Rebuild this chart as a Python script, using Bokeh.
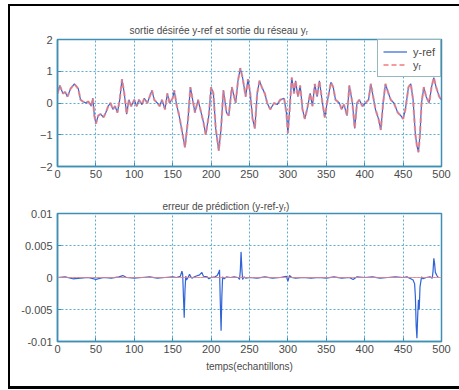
from bokeh.plotting import figure
from bokeh.layouts import column
from bokeh.models import Range1d, FixedTicker, Span, Legend, LegendItem
from bokeh.embed import file_html
from bokeh.resources import INLINE

# ---- data ----
t_ref = [0, 3, 7, 10, 13, 17, 22, 27, 30, 33, 37, 40, 44, 46, 48, 50, 53, 56, 60, 63,
         66, 69, 72, 75, 78, 81, 84, 87, 90, 93, 96, 100, 103, 106, 110, 113, 117, 120,
         123, 126, 130, 133, 136, 140, 143, 146, 150, 152, 155, 158, 160, 163, 166, 170,
         173, 176, 179, 183, 186, 190, 193, 197, 200, 203, 206, 210, 213, 216, 220, 223,
         227, 232, 235, 238, 241, 245, 248, 251, 254, 257, 260, 263, 266, 270, 273, 277,
         282, 286, 290, 295, 298, 300, 302, 305, 308, 310, 313, 316, 319, 322, 325, 329,
         332, 335, 338, 341, 345, 348, 351, 356, 359, 362, 367, 370, 373, 377, 380, 384,
         387, 390, 393, 397, 401, 405, 408, 411, 414, 418, 421, 424, 427, 431, 434, 438,
         443, 447, 450, 453, 457, 460, 463, 466, 468, 470, 472, 474, 477, 480, 484, 487,
         490, 493, 497, 500]
y_ref = [0.3, 0.55, 0.3, 0.35, 0.2, 0.45, 0.6, 0.45, 0.1, 0.05, 0.0, 0.05, -0.1, 0.15, -0.4,
         -0.65, -0.4, -0.35, -0.45, -0.3, -0.1, 0.0, -0.2, -0.1, -0.3, 0.1, 0.75, 0.3, -0.35,
         0.1, -0.1, 0.1, -0.1, 0.1, -0.05, 0.15, 0.0, 0.2, 0.4, 0.1, 0.0, -0.1, 0.1, -0.2,
         0.3, 0.0, 0.15, 0.4, -0.05, -0.35, -0.6, -1.0, -1.4, -0.5, 0.5, 0.1, -0.3, 0.1,
         -0.2, -0.6, -1.0, -0.4, 0.5, 0.3, -0.8, -1.5, -0.8, 0.4, -0.3, -0.4, 0.5, 0.0, 0.7,
         1.1, 0.8, 0.2, 0.75, 0.3, -0.5, -0.8, 0.3, 0.7, 0.5, 0.3, 0.0, -0.2, 0.0, -0.05,
         0.1, 0.15, -0.3, -0.95, -0.3, 0.8, 0.3, 0.7, 0.2, 0.55, -0.2, -0.5, -0.2, 0.3,
         -0.1, 0.6, 0.2, 0.7, 0.0, -0.45, 0.0, 0.65, 0.5, 0.1, 0.0, -0.2, -0.05, -0.4, 0.55,
         0.0, -0.8, 0.0, 0.1, -0.1, 0.0, 0.1, 0.6, 0.2, -0.2, -0.5, -0.85, 0.0, 0.6, 0.3,
         0.1, 0.0, -0.3, -0.4, -0.5, -0.2, 0.5, 0.6, 0.1, -1.0, -1.35, -1.55, -1.0, 0.0,
         0.5, 0.2, 0.0, 0.5, 0.8, 0.5, 0.2, 0.1]
y_r = list(y_ref)

t_err = [0, 10, 20, 30, 40, 50, 60, 70, 80, 85, 90, 100, 110, 120, 130, 140, 150, 155, 160,
         162, 163, 164, 165, 166, 167, 168, 170, 172, 173, 175, 180, 185, 188, 190, 195, 197,
         200, 205, 208, 210, 211, 212, 213, 214, 215, 217, 220, 225, 230, 235, 237, 238, 239,
         240, 241, 243, 245, 250, 260, 270, 280, 290, 298, 300, 302, 305, 310, 320, 330, 340,
         350, 360, 370, 380, 385, 390, 400, 410, 420, 430, 440, 450, 455, 460, 463, 465, 466,
         467, 468, 469, 470, 471, 472, 474, 476, 480, 485, 488, 489, 490, 491, 492, 494, 496,
         500]
err = [0.0, 0.0001, -0.0002, -0.0001, 0.0, -0.0003, 0.0, -0.0001, 0.0001, 0.0003, 0.0,
       -0.0001, 0.0, 0.0001, -0.0001, 0.0, 0.0001, 0.0, 0.0002, 0.001, 0.0005, -0.003,
       -0.0063, -0.002, 0.0002, -0.0004, 0.0, 0.0005, 0.0002, -0.0001, 0.0002, 0.0004,
       0.0008, 0.0002, 0.0001, -0.0002, 0.0, 0.0001, 0.0003, 0.0008, 0.0012, -0.004,
       -0.0083, -0.003, 0.0001, -0.0002, 0.0001, 0.0, 0.0001, 0.0, -0.0003, 0.001, 0.004,
       0.0015, -0.0003, 0.0001, -0.0001, 0.0, -0.0001, 0.0001, -0.0001, 0.0, 0.0002,
       -0.0006, 0.0003, 0.0, -0.0001, 0.0, -0.0001, 0.0, -0.0001, 0.0001, -0.0001, 0.0,
       -0.0003, 0.0001, 0.0, 0.0001, -0.0001, 0.0, 0.0001, 0.0, 0.0001, -0.0002, -0.0004,
       -0.001, -0.003, -0.0075, -0.0095, -0.006, -0.0035, -0.005, -0.0015, 0.0001, -0.0002,
       0.0, 0.0001, -0.0001, 0.001, 0.003, 0.0022, 0.0008, 0.0003, 0.0]

x_ticks = [0, 50, 100, 150, 200, 250, 300, 350, 400, 450, 500]
y1_ticks = [-2, -1, 0, 1, 2]
y2_ticks = [-0.01, -0.005, 0, 0.005, 0.01]
y2_labels = {-0.01: "-0.01", -0.005: "-0.005", 0: "0", 0.005: "0.005", 0.01: "0.01"}

title1 = "sortie désirée y-ref et sortie du réseau yᵣ"
title2 = "erreur de prédiction (y-ref-yᵣ)"
xlabel = "temps(echantillons)"
legend_labels = ["y-ref", "yᵣ"]

# ---- styles ----
FONT = "Liberation Sans"
AX = "#3f8fb4"
GRID = "#5aaed2"
TXT = "#4a4a4a"
BLUE = "#2f63d6"
RED = "#f28282"


def style(p, yticks):
    p.outline_line_color = AX
    p.outline_line_width = 1.5
    p.background_fill_color = "white"
    p.border_fill_color = "white"
    p.xaxis.ticker = FixedTicker(ticks=x_ticks)
    p.yaxis.ticker = FixedTicker(ticks=yticks)
    for ax in (p.xaxis, p.yaxis):
        ax.axis_line_color = AX
        ax.axis_line_width = 1.5
        ax.major_tick_line_color = AX
        ax.major_tick_in = 4
        ax.major_tick_out = 0
        ax.minor_tick_line_color = None
        ax.major_label_text_font = FONT
        ax.major_label_text_font_size = "11px"
        ax.major_label_text_color = TXT
    p.xaxis.major_label_standoff = 3
    p.yaxis.major_label_standoff = 5
    for g in (p.xgrid, p.ygrid):
        g.grid_line_color = GRID
        g.grid_line_dash = "2 2"
        g.grid_line_width = 1
    p.title.text_font = FONT
    p.title.text_font_size = "10px"
    p.title.text_font_style = "normal"
    p.title.text_color = TXT
    p.title.align = "left"


# ---- top figure ----
p1 = figure(width=449, height=184, output_backend="svg", toolbar_location=None,
            x_range=Range1d(0, 500), y_range=Range1d(-2, 2), title=title1,
            min_border_left=47, min_border_right=18, min_border_top=33, min_border_bottom=24)
style(p1, y1_ticks)
p1.title.offset = 72
p1.title.standoff = 8
r_ref = p1.line(t_ref, y_ref, line_color=BLUE, line_width=1.2)
r_r = p1.line(t_ref, y_r, line_color=RED, line_width=2.2, line_dash="5 3", line_alpha=0.8)
leg = Legend(items=[LegendItem(label=legend_labels[0], renderers=[r_ref]),
                    LegendItem(label=legend_labels[1], renderers=[r_r])],
             location="top_right", margin=0, padding=5, spacing=0,
             glyph_width=24, glyph_height=13, label_standoff=6,
             label_text_font=FONT, label_text_font_size="11px", label_text_color=TXT,
             border_line_color="#2f6f80", border_line_width=1.5,
             background_fill_alpha=1.0)
p1.add_layout(leg, "center")

# ---- bottom figure ----
p2 = figure(width=449, height=196, output_backend="svg", toolbar_location=None,
            x_range=Range1d(0, 500), y_range=Range1d(-0.01, 0.01), title=title2,
            min_border_left=47, min_border_right=18, min_border_top=23, min_border_bottom=45)
style(p2, y2_ticks)
p2.title.offset = 105
p2.title.standoff = 3
p2.yaxis.major_label_overrides = y2_labels
p2.xaxis.axis_label = xlabel
p2.xaxis.axis_label_text_font = FONT
p2.xaxis.axis_label_text_font_size = "10px"
p2.xaxis.axis_label_text_font_style = "normal"
p2.xaxis.axis_label_text_color = TXT
p2.xaxis.axis_label_standoff = 5
p2.add_layout(Span(location=0, dimension="width", line_color=RED, line_width=1.2, line_alpha=0.8))
p2.line(t_err, err, line_color=BLUE, line_width=1.2)

layout = column(p1, p2, spacing=0,
                styles={"margin-left": "8px", "margin-top": "4px",
                        "border-top": "2px solid black", "border-left": "2px solid black",
                        "border-bottom": "3px solid black"})

open("out.html", "w").write(file_html(layout, INLINE))
